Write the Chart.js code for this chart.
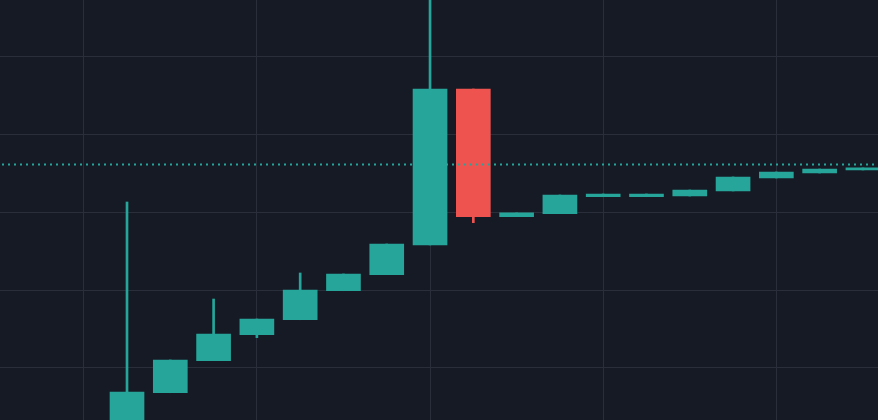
<!DOCTYPE html>
<html>
<head>
<meta charset="utf-8">
<script src="https://cdn.jsdelivr.net/npm/chart.js@4/dist/chart.umd.min.js"></script>
<style>
  html, body { margin: 0; padding: 0; background: #161a25; }
  #wrap { width: 878px; height: 420px; }
</style>
</head>
<body>
<div id="wrap"><canvas id="c"></canvas></div>
<script>
// Candle periods (category labels)
const periods = ['P1','P2','P3','P4','P5','P6','P7','P8','P9','P10','P11','P12','P13','P14','P15','P16','P17','P18'];
// OHLC series values
const opens  = [2.0, 6.82, 10.94, 14.28, 16.21, 19.94, 22.00, 25.82, 45.88, 29.46, 29.85, 32.03, 32.03, 32.12, 32.77, 34.44, 35.08, 35.47];
const highs  = [31.35, 11.03, 18.87, 16.30, 22.22, 22.09, 25.95, 60.0, 45.88, 29.94, 32.25, 32.38, 32.38, 32.89, 34.57, 35.21, 35.59, 35.73];
const lows   = [2.0, 6.82, 10.94, 13.90, 16.21, 19.94, 22.00, 25.82, 28.69, 29.46, 29.85, 32.03, 32.03, 32.12, 32.77, 34.44, 35.08, 35.47];
const closes = [6.91, 11.03, 14.37, 16.30, 20.03, 22.09, 25.95, 45.88, 29.46, 29.94, 32.25, 32.38, 32.38, 32.89, 34.57, 35.21, 35.59, 35.73];
// Current price line
const lastPrice = 36.28;
// Grid tick values (hidden labels)
const yTicks = [10, 20, 30, 40, 50];
const xTicks = [-1, 3, 7, 11, 15];

const UP = '#26a69a', DOWN = '#ef5350';
const colors = opens.map((o, i) => closes[i] >= o ? UP : DOWN);

const bodies = periods.map((p, i) => ({ x: i, y: [opens[i], closes[i]] }));
const wicks  = periods.map((p, i) => ({ x: i, y: [lows[i], highs[i]] }));

const bgPlugin = {
  id: 'bg',
  beforeDraw(chart) {
    const ctx = chart.ctx;
    ctx.save();
    ctx.fillStyle = '#161a25';
    ctx.fillRect(0, 0, chart.width, chart.height);
    ctx.restore();
  }
};
const priceLine = {
  id: 'priceLine',
  afterDatasetsDraw(chart) {
    const ctx = chart.ctx, a = chart.chartArea;
    const y = Math.round(chart.scales.y.getPixelForValue(lastPrice)) + 0.5;
    ctx.save();
    ctx.strokeStyle = UP;
    ctx.lineWidth = 2;
    ctx.setLineDash([2, 4]);
    ctx.beginPath();
    ctx.moveTo(a.left + 2, y);
    ctx.lineTo(a.right, y);
    ctx.stroke();
    ctx.restore();
  }
};

new Chart(document.getElementById('c'), {
  type: 'bar',
  data: {
    datasets: [
      { label: 'wick', data: wicks, backgroundColor: colors, barThickness: 2, borderWidth: 0, borderSkipped: false, grouped: false, order: 2 },
      { label: 'body', data: bodies, backgroundColor: colors, barThickness: 34, borderWidth: 0, borderSkipped: false, grouped: false, order: 1 }
    ]
  },
  options: {
    responsive: true,
    maintainAspectRatio: false,
    animation: false,
    layout: { padding: 0 },
    plugins: { legend: { display: false }, tooltip: { enabled: false } },
    scales: {
      x: {
        type: 'linear',
        min: -2.934, max: 17.348,
        offset: false,
        afterBuildTicks: s => { s.ticks = xTicks.map(v => ({ value: v })); },
        ticks: { display: false },
        grid: { color: '#2a2d3a', lineWidth: 1, drawTicks: false, offset: false },
        border: { display: false }
      },
      y: {
        min: 3.31, max: 57.33,
        afterBuildTicks: s => { s.ticks = yTicks.map(v => ({ value: v })); },
        ticks: { display: false },
        grid: { color: '#2a2d3a', lineWidth: 1, drawTicks: false },
        border: { display: false }
      }
    }
  },
  plugins: [bgPlugin, priceLine]
});
</script>
</body>
</html>
